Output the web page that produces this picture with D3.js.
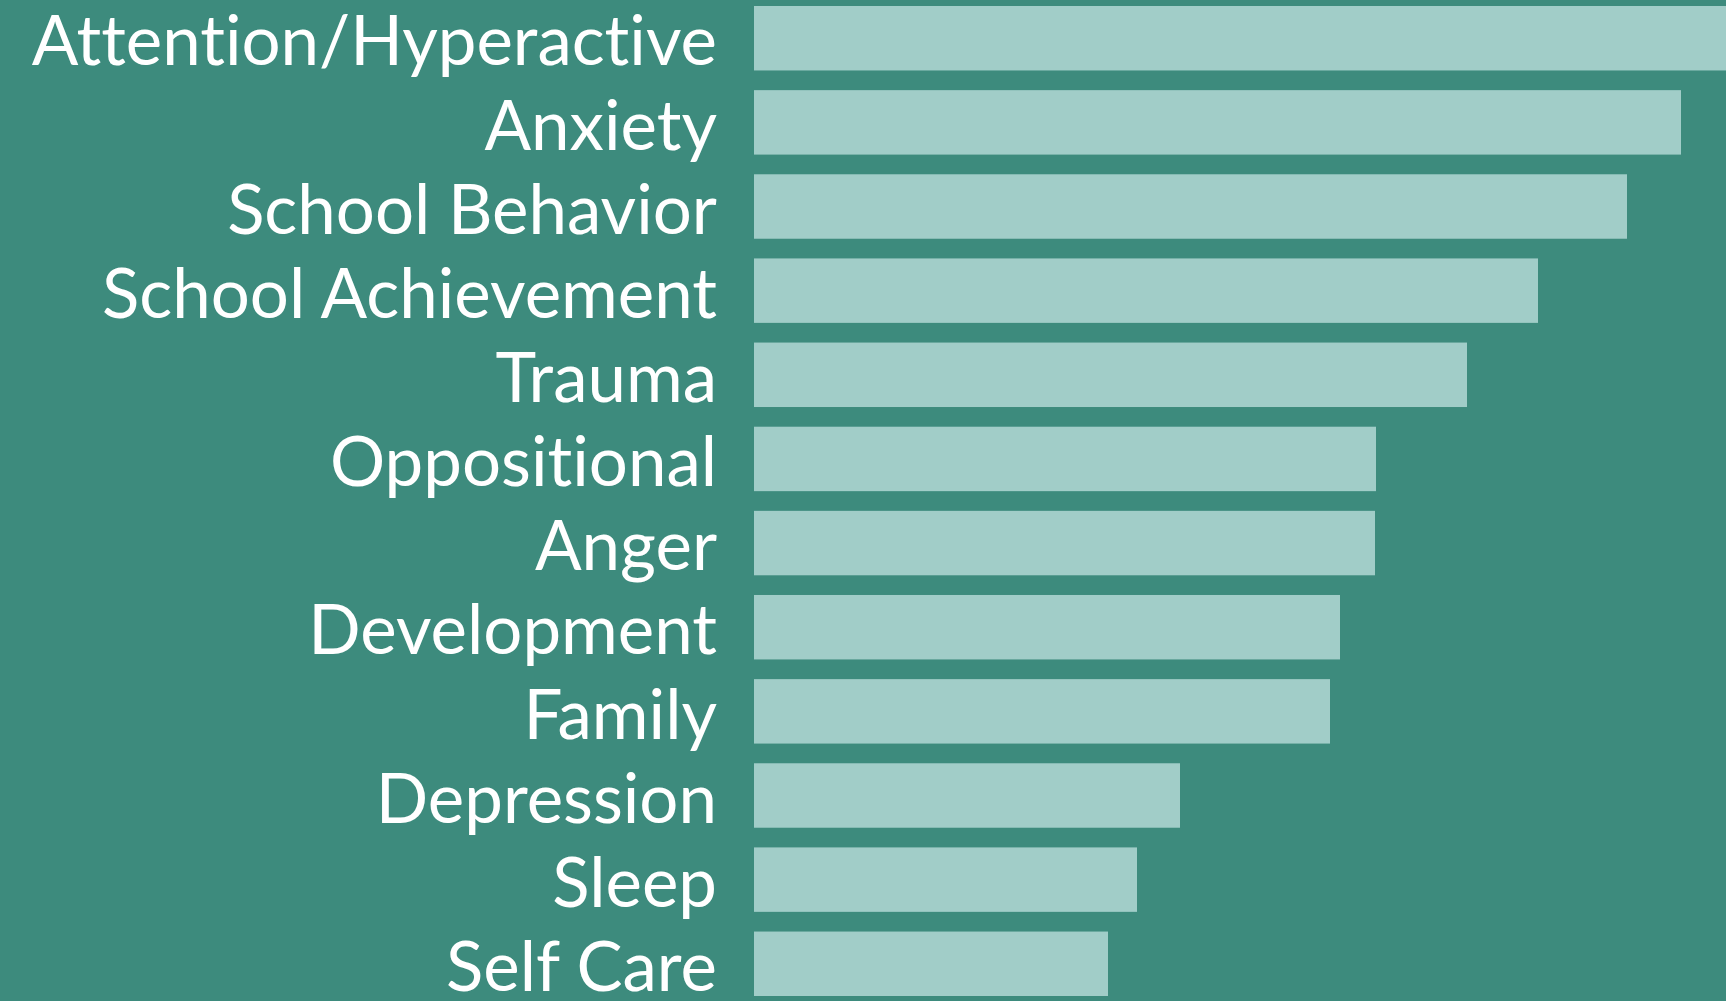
<!DOCTYPE html>
<html>
<head>
<meta charset="utf-8">
<script src="https://cdn.jsdelivr.net/npm/d3@7"></script>
<style>
  html, body { margin: 0; padding: 0; background: #3d8b7d; overflow: hidden; }
  .label { fill: #ffffff; font-family: Lato, "Open Sans", sans-serif; font-variant-ligatures: none; }
</style>
</head>
<body>
<div id="chartID"></div>
<script>
//categories, top to bottom
var categories = ["Attention/Hyperactive", "Anxiety", "School Behavior", "School Achievement",
  "Trauma", "Oppositional", "Anger", "Development", "Family", "Depression", "Sleep", "Self Care"];
//bar values (relative units)
var values = [49, 46.35, 43.65, 39.2, 35.65, 31.1, 31.05, 29.3, 28.8, 21.3, 19.15, 17.7];

var data = categories.map(function(c, i) { return {name: c, value: values[i]}; });

//size of the page
var width = 1726;
var height = 1001;
var margin = {top: 6, right: 0, bottom: 5, left: 754};

var svg = d3.select("#chartID").append("svg")
    .attr("width", width)
    .attr("height", height);

//horizontal scale, bars start at the left margin
var xScale = d3.scaleLinear()
    .domain([0, 50])
    .range([margin.left, margin.left + 1000]);

//one band per category
var yScale = d3.scaleBand()
    .domain(categories)
    .range([margin.top, height - margin.bottom])
    .paddingInner(0.234)
    .paddingOuter(0);

//bars
svg.selectAll(".bar")
    .data(data)
    .enter()
    .append("rect")
    .attr("class", "bar")
    .attr("x", xScale(0))
    .attr("y", function(d) { return yScale(d.name); })
    .attr("width", function(d) { return xScale(d.value) - xScale(0); })
    .attr("height", yScale.bandwidth())
    .attr("fill", "#a1cdc8");

//category labels on the left, right aligned
svg.selectAll(".label")
    .data(data)
    .enter()
    .append("text")
    .attr("class", "label")
    .attr("x", margin.left - 37)
    .attr("y", function(d) { return yScale(d.name) + yScale.bandwidth() - 5; })
    .attr("text-anchor", "end")
    .style("font-size", "69px")
    .text(function(d) { return d.name; });
</script>
</body>
</html>
